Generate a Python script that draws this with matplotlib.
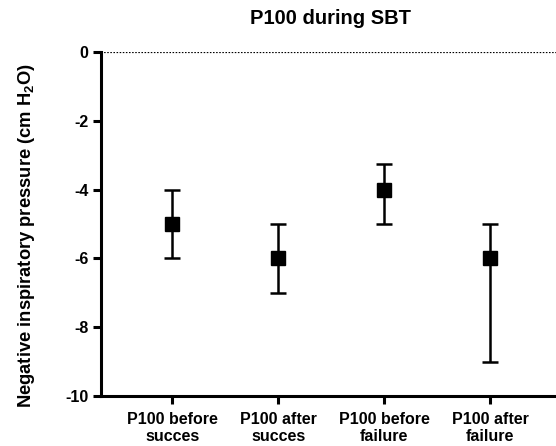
import matplotlib
matplotlib.use('Agg')
import matplotlib.pyplot as plt

plt.rcParams['font.family'] = ['Liberation Sans', 'DejaVu Sans']
plt.rcParams['font.weight'] = 'bold'
plt.rcParams['mathtext.fontset'] = 'custom'
plt.rcParams['mathtext.rm'] = 'Liberation Sans:bold'
plt.rcParams['mathtext.default'] = 'rm'

# data
categories = ['P100 before\nsucces', 'P100 after\nsucces', 'P100 before\nfailure', 'P100 after\nfailure']
means = [-5, -6, -4, -6]
upper = [-4, -5, -3.25, -5]
lower = [-6, -7, -5, -9]
yticks = [0, -2, -4, -6, -8, -10]

x = list(range(len(categories)))
err_low = [m - lo for m, lo in zip(means, lower)]
err_high = [hi - m for m, hi in zip(means, upper)]

fig = plt.figure(figsize=(5.56, 4.46), dpi=100)
ax = fig.add_axes([0.1817, 0.1121, 0.8183, 0.7713])

ax.axhline(0, color='black', linestyle=(0, (0.7, 0.7)), linewidth=1.6, zorder=1)
ax.errorbar(x, means, yerr=[err_low, err_high], fmt='s', color='black',
            markersize=9.5, elinewidth=1.8, capsize=5.5, capthick=1.8, zorder=3)

ax.set_xlim(-0.67, 3.62)
ax.set_ylim(-10, 0)
ax.set_yticks(yticks)
ax.set_yticklabels([str(t) for t in yticks])
ax.set_xticks(x)
ax.set_xticklabels(categories, fontsize=11.5, fontweight='bold', linespacing=1.2)

for side in ['top', 'right']:
    ax.spines[side].set_visible(False)
for side in ['left', 'bottom']:
    ax.spines[side].set_linewidth(2.2)
ax.tick_params(axis='both', width=2.2, length=6, labelsize=11.5, direction='out')
ax.tick_params(axis='x', pad=5.5)
ax.tick_params(axis='y', pad=3)

fig.text(27 / 556, 1 - 236 / 446, 'Negative inspiratory pressure (cm H$_2$O)',
         fontsize=13.2, fontweight='bold', rotation=90, ha='center', va='center')
fig.text(330 / 556, 1 - 18 / 446, 'P100 during SBT',
         fontsize=14.5, fontweight='bold', ha='center', va='center')

fig.savefig('out.png', dpi=100)
